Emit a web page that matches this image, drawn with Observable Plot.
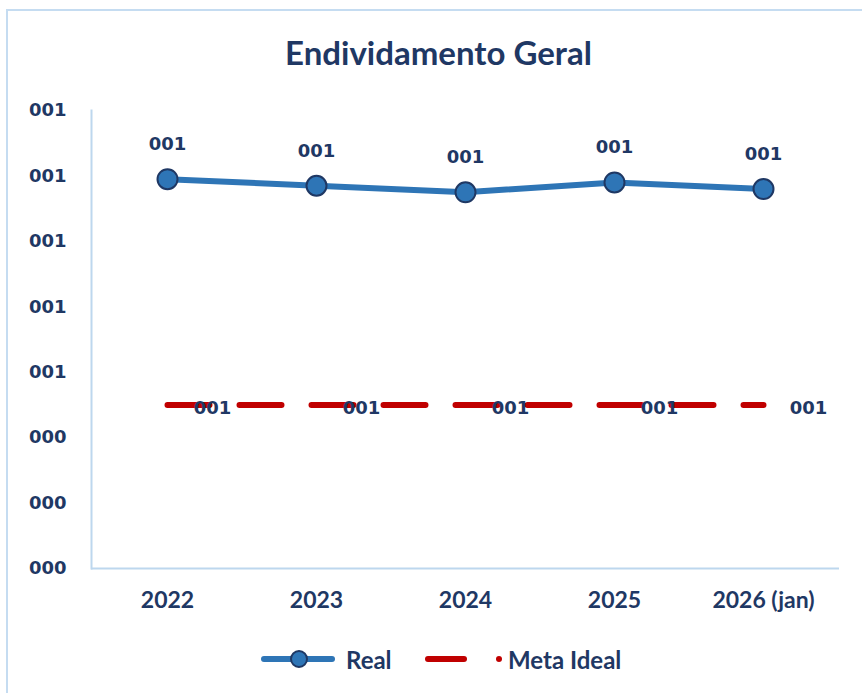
<!DOCTYPE html>
<html>
<head>
<meta charset="utf-8">
<script src="https://cdn.jsdelivr.net/npm/d3@7"></script>
<script src="https://cdn.jsdelivr.net/npm/@observablehq/plot@0.6"></script>
<style>
  html, body { margin: 0; padding: 0; background: #fff; }
  #wrap { position: relative; width: 862px; height: 693px; overflow: hidden; background: #fff; }
  #border { position: absolute; left: 6px; top: 9px; width: 1000px; height: 1000px;
            border-left: 2px solid #C5DCF1; border-top: 2px solid #C5DCF1; }
  #title { position: absolute; left: 0; top: 32px; width: 877px; text-align: center;
           font-family: Lato, "Open Sans", sans-serif; font-weight: bold; font-size: 33px;
           color: #1F3864; line-height: 40px; }
  #chart { position: absolute; left: 0; top: 90px; }
  #legend { position: absolute; top: 645px; left: 0; width: 862px; height: 30px;
            font-family: Lato, "Open Sans", sans-serif; font-weight: bold; font-size: 24px; color: #1F3864; }
  .li { position: absolute; top: 0; height: 28px; display: flex; align-items: center; }
</style>
</head>
<body>
<div id="wrap">
  <div id="border"></div>
  <div id="title"></div>
  <div id="chart"></div>
  <div id="legend"></div>
</div>
<script>
const title = "Endividamento Geral";
const categories = ["2022", "2023", "2024", "2025", "2026 (jan)"];
const realValues = [1.19, 1.17, 1.15, 1.18, 1.16];
const metaValues = [0.5, 0.5, 0.5, 0.5, 0.5];
const yTicks = [0, 0.2, 0.4, 0.6, 0.8, 1.0, 1.2, 1.4];
const seriesNames = ["Real", "Meta Ideal"];

const fmt = d3.format("03.0f");
const realData = categories.map((c, i) => ({cat: c, value: realValues[i]}));
const metaData = categories.map((c, i) => ({cat: c, value: metaValues[i]}));

const navy = "#1F3864";
const blue = "#2E75B6";
const red = "#C00000";
const axisCol = "#BDD7EE";
const numFont = "DejaVu Sans, Verdana, sans-serif";
const catFont = "Lato, 'Open Sans', sans-serif";

document.getElementById("title").textContent = title;

const chart = Plot.plot({
  width: 862,
  height: 540,
  marginLeft: 91,
  marginRight: 23,
  marginTop: 20,
  marginBottom: 62,
  x: {type: "point", domain: categories, padding: 0.5, label: null},
  y: {domain: [0, 1.4], label: null},
  style: {fontFamily: numFont, color: navy, background: "transparent", overflow: "visible"},
  marks: [
    Plot.ruleY([0], {stroke: axisCol, strokeWidth: 2}),
    Plot.frame({anchor: "left", stroke: axisCol, strokeWidth: 2, strokeOpacity: 1}),
    Plot.axisY({ticks: yTicks, tickFormat: fmt, tickSize: 0, tickPadding: 25, label: null,
      fontSize: 18, fontWeight: "bold", fill: navy, fontFamily: numFont}),
    Plot.axisX({tickSize: 0, tickPadding: 23, fontSize: 23, fontWeight: "bold", label: null,
      fill: navy, fontFamily: catFont}),
    Plot.line(metaData, {x: "cat", y: "value", stroke: red, strokeWidth: 6,
      strokeDasharray: "42,30", strokeLinecap: "round"}),
    Plot.text(metaData, {x: "cat", y: "value", text: d => fmt(d.value), dx: 45, dy: 3,
      fontSize: 18, fontWeight: "bold", fill: navy, fontFamily: numFont}),
    Plot.line(realData, {x: "cat", y: "value", stroke: blue, strokeWidth: 6}),
    Plot.dot(realData, {x: "cat", y: "value", r: 10, fill: blue, stroke: navy, strokeWidth: 2}),
    Plot.text(realData, {x: "cat", y: "value", text: d => fmt(d.value), dy: -35,
      fontSize: 18, fontWeight: "bold", fill: navy, fontFamily: numFont})
  ]
});
document.getElementById("chart").appendChild(chart);

// Legend
const legend = document.getElementById("legend");
const item1 = document.createElement("div");
item1.className = "li";
item1.style.left = "261px";
item1.innerHTML = `<svg width="74" height="28" style="margin-right:11px"><line x1="3" y1="14" x2="71" y2="14" stroke="${blue}" stroke-width="6" stroke-linecap="round"/><circle cx="38" cy="14" r="8" fill="${blue}" stroke="${navy}" stroke-width="2"/></svg><span></span>`;
item1.querySelector("span").textContent = seriesNames[0];
legend.appendChild(item1);

const item2 = document.createElement("div");
item2.className = "li";
item2.style.left = "424px";
item2.innerHTML = `<svg width="82" height="28" style="margin-right:2px"><line x1="4" y1="14" x2="40" y2="14" stroke="${red}" stroke-width="6" stroke-linecap="round"/><circle cx="75" cy="14" r="3" fill="${red}"/></svg><span></span>`;
item2.querySelector("span").textContent = seriesNames[1];
legend.appendChild(item2);
</script>
</body>
</html>
